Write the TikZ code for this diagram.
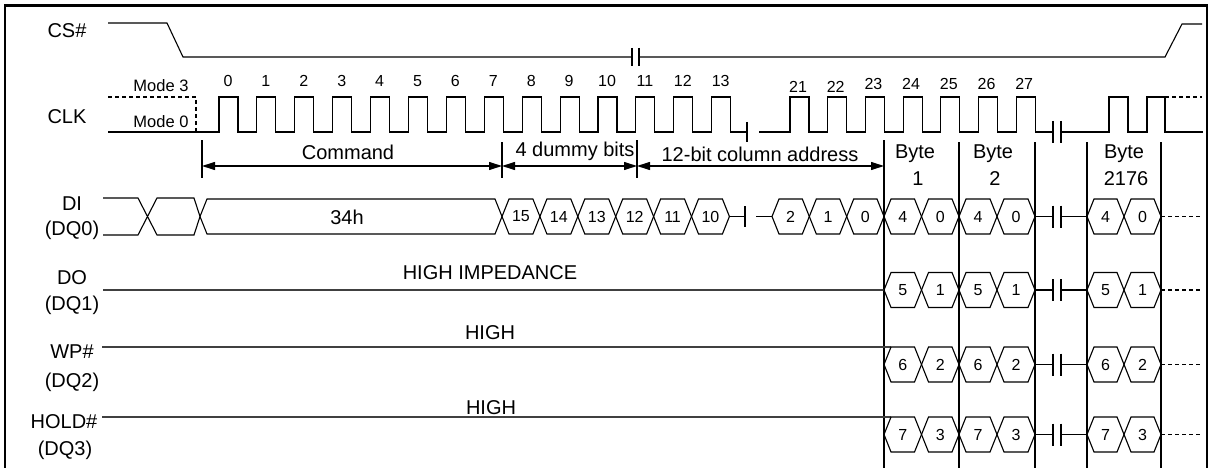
\documentclass[tikz,border=0pt]{standalone}
\usepackage{fontspec}
\setmainfont{Liberation Sans}
\usetikzlibrary{arrows.meta}
\newcommand{\hexcell}[5]{% name, x1, x2, yc, text
  \draw[wave] (#2,#4) -- ({#2+7},{#4-17.5}) -- ({#3-7},{#4-17.5}) -- (#3,#4) -- ({#3-7},{#4+17.5}) -- ({#2+7},{#4+17.5}) -- cycle;
  \node[hexnum] (#1) at ({(#2+#3)/2},#4) {#5};}
\begin{document}
\begin{tikzpicture}[x=1pt,y=-1pt,line join=miter,
  wave/.style={line width=1.1pt,black},
  sig/.style={line width=1.5pt,black!75},
  dashline/.style={line width=1.1pt,black,dash pattern=on 4pt off 3pt},
  dimarrow/.style={line width=1.1pt,{Triangle[length=13pt,width=8pt]}-{Triangle[length=13pt,width=8pt]}},
  lbl/.style={font=\fontsize{20}{24}\selectfont,inner sep=0pt,anchor=base},
  num/.style={font=\fontsize{16}{18}\selectfont,inner sep=0pt,anchor=base},
  modelbl/.style={font=\fontsize{16.5}{18}\selectfont,inner sep=0pt,anchor=base},
  hexnum/.style={font=\fontsize{16}{18}\selectfont,inner sep=0pt}]
\useasboundingbox (0,0) rectangle (1220,468);
% frame
\draw[line width=2.5pt] (5,472) -- (5,5.5) -- (1207,5.5) -- (1207,472);

% ---------- labels ----------
\node[lbl] (lcs) at (67,38) {CS\#};
\node[lbl] (lclk) at (67,124) {CLK};
\node[modelbl] (m3) at (161,92) {Mode 3};
\node[modelbl] (m0) at (161,128) {Mode 0};
\node[lbl] (ldi) at (72,210) {DI};
\node[lbl] (ldq0) at (72,235) {(DQ0)};
\node[lbl] (ldo) at (72,284) {DO};
\node[lbl] (ldq1) at (72,310) {(DQ1)};
\node[lbl] (lwp) at (72,358) {WP\#};
\node[lbl] (ldq2) at (72,387) {(DQ2)};
\node[lbl] (lhold) at (64,428) {HOLD\#};
\node[lbl] (ldq3) at (65,455) {(DQ3)};

% ---------- CS# ----------
\draw[wave] (108,23) -- (167,23) -- (183,57) -- (632,57);
\draw[wave] (632,48) -- (632,66) (639,48) -- (639,66);
\draw[wave] (639,57) -- (1165,57) -- (1182,24) -- (1202,24);

% ---------- CLK ----------
\draw[dashline] (108,97) -- (196,97) -- (196,132);
\draw[wave] (108,132) foreach \k in {0,...,13} { -- ({219+\k*37.9},132) -- ++(0,-35) -- ++(19,0) -- ++(0,35) } -- (747,132);
\draw[wave] (747,122) -- (747,142);
\draw[wave] (759,132) foreach \k in {0,...,6} { -- ({790+\k*37.7},132) -- ++(0,-35) -- ++(19,0) -- ++(0,35) } -- (1053,132);
\draw[wave] (1053,121) -- (1053,143) (1061,121) -- (1061,143);
\draw[wave] (1061,132) -- (1109,132) -- (1109,97) -- (1128,97) -- (1128,132) -- (1147,132) -- (1147,97) -- (1165,97) -- (1165,132) -- (1203,132);
\draw[dashline] (1165,97) -- (1202,97);
\foreach \k in {0,...,13} \node[num] (n\k) at ({219+\k*37.9+9},87) {\k};
\foreach \k/\yb [count=\i from 0] in {21/93,22/93,23/90,24/90,25/90,26/90,27/90}
  \node[num] (n\k) at ({790+\i*37.7+8},\yb) {\k};

% ---------- dimension arrows ----------
\draw[wave] (202,140) -- (202,178) (502,142) -- (502,178) (637,140) -- (637,178);
\foreach \x/\yt in {884/140,959/142,1035/142,1087/142,1161/142}
  \draw[wave] (\x,\yt) -- (\x,468);
\draw[dimarrow] (202,166) -- (502,166);
\draw[dimarrow] (502,166) -- (637,166);
\draw[dimarrow] (637,166) -- (884,166);
\node[lbl] (cmd) at (348,159) {Command};
\node[lbl] (dummy) at (575,156) {4 dummy bits};
\node[lbl] (coladdr) at (760,161) {12-bit column address};
\node[lbl] (by1) at (915,158) {Byte};
\node[lbl] (by1n) at (918,185) {1};
\node[lbl] (by2) at (993,158) {Byte};
\node[lbl] (by2n) at (995,185) {2};
\node[lbl] (by3) at (1124,158) {Byte};
\node[lbl] (by3n) at (1126,185) {2176};

% ---------- DI ----------
\draw[wave] (103,198) -- (138,198) -- (157,235) -- (194,235) -- (200,216.5) -- (194,198) -- (157,198) -- (138,235) -- (103,235);
\draw[wave] (200,216.5) -- (207,199) -- (495,199) -- (502,216.5) -- (495,234) -- (207,234) -- cycle;
\node[lbl] (cmdval) at (347,224) {34h};
\foreach \t [count=\i from 0] in {15,14,13,12,11,10}
  \hexcell{dq\t}{502+\i*37.9}{502+\i*37.9+37.9}{216.5}{\t}
\draw[wave] (729.4,216.5) -- (745,216.5) (745,206) -- (745,227) (756,216.5) -- (772,216.5);
\hexcell{da2}{772}{809.3}{216.5}{2}
\hexcell{da1}{809.3}{846.7}{216.5}{1}
\hexcell{da0}{846.7}{884}{216.5}{0}

% ---------- DO / WP / HOLD lines ----------
\draw[sig] (103,290) -- (884,290);
\draw[sig] (102,347) -- (891,347);
\draw[sig] (102,417) -- (891,417);
\node[lbl] (hiz) at (490,279) {HIGH IMPEDANCE};
\node[lbl] (hi1) at (490,339) {HIGH};
\node[lbl] (hi2) at (491,414) {HIGH};

% ---------- data bytes ----------
\foreach \row/\yc/\a/\b in {di/216.5/4/0,do/290/5/1,wp/364.5/6/2,hd/434.5/7/3} {
  \hexcell{\row a1}{884}{921.5}{\yc}{\a}
  \hexcell{\row b1}{921.5}{959}{\yc}{\b}
  \hexcell{\row a2}{959}{997}{\yc}{\a}
  \hexcell{\row b2}{997}{1035}{\yc}{\b}
  \draw[wave] (1035,\yc) -- (1053,\yc) (1053,\yc-11) -- (1053,\yc+11) (1061,\yc-11) -- (1061,\yc+11) (1061,\yc) -- (1087,\yc);
  \hexcell{\row a3}{1087}{1124}{\yc}{\a}
  \hexcell{\row b3}{1124}{1161}{\yc}{\b}
  \draw[dashline] (1161,\yc) -- (1202,\yc);
}
\end{tikzpicture}
\end{document}
